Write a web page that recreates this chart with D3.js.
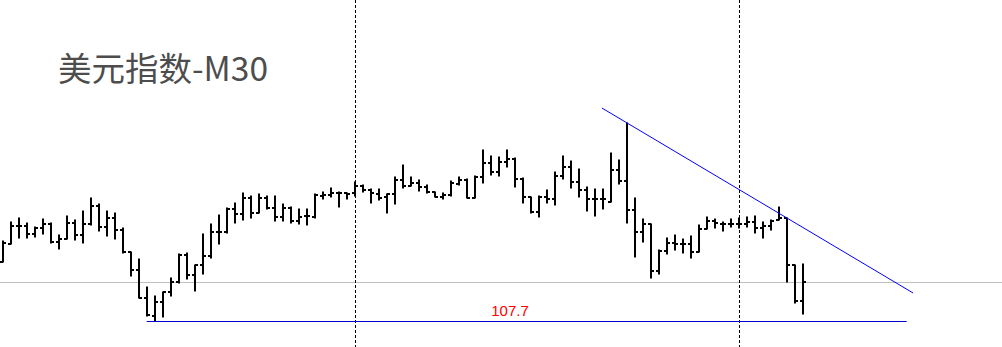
<!DOCTYPE html>
<html>
<head>
<meta charset="utf-8">
<script src="https://cdn.jsdelivr.net/npm/d3@7"></script>
<style>
  html, body { margin: 0; padding: 0; background: #fff; }
  svg { display: block; }
</style>
</head>
<body>
<div id="chart"></div>
<script>
// 美元指数 M30 OHLC bars

const title = '美元指数-M30';

const opens = [
  107.995, 108.085, 108.175, 108.175, 108.135, 108.165, 108.185, 108.095, 108.110, 108.190,
  108.130, 108.185, 108.275, 108.170, 108.215, 108.155, 108.045, 107.955, 107.815, 107.725,
  107.795, 107.845, 107.895, 108.030, 107.930, 107.980, 108.025, 108.145, 108.145, 108.260,
  108.235, 108.315, 108.240, 108.315, 108.265, 108.220, 108.265, 108.200, 108.225, 108.220,
  108.325, 108.330, 108.340, 108.340, 108.340, 108.375, 108.355, 108.335, 108.320, 108.335,
  108.405, 108.375, 108.390, 108.370, 108.345, 108.320, 108.330, 108.385, 108.405, 108.315,
  108.420, 108.490, 108.445, 108.495, 108.510, 108.410, 108.320, 108.245, 108.320, 108.310,
  108.425, 108.470, 108.395, 108.355, 108.310, 108.310, 108.295, 108.455, 108.400, 108.255,
  108.145, 108.185, 107.950, 108.050, 108.090, 108.085, 108.085, 108.045, 108.160, 108.200,
  108.185, 108.185, 108.185, 108.185, 108.195, 108.165, 108.175, 108.205, 108.215, 107.980,
  107.800
];

const highs = [
  108.100, 108.195, 108.215, 108.190, 108.170, 108.210, 108.190, 108.130, 108.225, 108.205,
  108.250, 108.315, 108.285, 108.250, 108.240, 108.165, 108.045, 108.010, 107.870, 107.825,
  107.845, 107.915, 108.035, 108.040, 107.980, 108.135, 108.185, 108.230, 108.265, 108.290,
  108.340, 108.325, 108.335, 108.325, 108.325, 108.285, 108.270, 108.260, 108.260, 108.335,
  108.345, 108.365, 108.345, 108.340, 108.395, 108.380, 108.360, 108.360, 108.335, 108.420,
  108.480, 108.420, 108.405, 108.380, 108.345, 108.340, 108.400, 108.420, 108.410, 108.425,
  108.555, 108.525, 108.520, 108.555, 108.515, 108.415, 108.320, 108.325, 108.355, 108.445,
  108.525, 108.500, 108.460, 108.370, 108.360, 108.360, 108.540, 108.505, 108.690, 108.315,
  108.210, 108.185, 108.055, 108.115, 108.130, 108.110, 108.125, 108.180, 108.220, 108.210,
  108.195, 108.210, 108.215, 108.220, 108.225, 108.195, 108.205, 108.270, 108.215, 107.980,
  107.985
];

const lows = [
  107.995, 108.085, 108.115, 108.115, 108.120, 108.135, 108.090, 108.060, 108.110, 108.105,
  108.090, 108.180, 108.150, 108.125, 108.110, 108.040, 107.925, 107.815, 107.725, 107.700,
  107.720, 107.825, 107.890, 107.910, 107.850, 107.935, 108.015, 108.085, 108.140, 108.190,
  108.205, 108.215, 108.240, 108.260, 108.200, 108.200, 108.190, 108.185, 108.180, 108.215,
  108.310, 108.320, 108.270, 108.310, 108.325, 108.345, 108.290, 108.305, 108.240, 108.285,
  108.365, 108.375, 108.350, 108.340, 108.320, 108.310, 108.325, 108.380, 108.315, 108.315,
  108.390, 108.430, 108.425, 108.470, 108.370, 108.290, 108.240, 108.220, 108.290, 108.280,
  108.410, 108.365, 108.320, 108.250, 108.225, 108.260, 108.295, 108.385, 108.190, 108.020,
  108.095, 107.915, 107.935, 108.035, 108.055, 108.040, 108.015, 108.045, 108.160, 108.165,
  108.150, 108.170, 108.165, 108.170, 108.140, 108.115, 108.155, 108.205, 107.895, 107.790,
  107.735
];

const closes = [
  108.090, 108.175, 108.175, 108.135, 108.165, 108.185, 108.095, 108.110, 108.190, 108.130,
  108.185, 108.275, 108.170, 108.215, 108.155, 108.045, 107.955, 107.815, 107.730, 107.795,
  107.845, 107.895, 108.030, 107.930, 107.980, 108.025, 108.145, 108.145, 108.260, 108.235,
  108.315, 108.240, 108.315, 108.265, 108.220, 108.265, 108.200, 108.220, 108.225, 108.330,
  108.330, 108.340, 108.340, 108.335, 108.375, 108.355, 108.340, 108.315, 108.335, 108.405,
  108.375, 108.390, 108.370, 108.345, 108.320, 108.330, 108.390, 108.405, 108.315, 108.420,
  108.490, 108.445, 108.495, 108.510, 108.410, 108.320, 108.245, 108.320, 108.310, 108.425,
  108.470, 108.395, 108.355, 108.310, 108.310, 108.310, 108.455, 108.400, 108.255, 108.145,
  108.185, 107.950, 108.050, 108.090, 108.085, 108.085, 108.045, 108.160, 108.200, 108.190,
  108.185, 108.185, 108.185, 108.195, 108.165, 108.175, 108.200, 108.215, 107.980, 107.800,
  107.895
];

// session separators (bar index), support level, current price, resistance trendline
const separators = [44, 92];
const supportLevel = 107.7;
const supportRange = [18, 113];
const currentPrice = 107.895;
const trendline = [[74.9, 108.765], [113.8, 107.84]];

const W = 1002, H = 347;

const svg = d3.select('#chart').append('svg')
  .attr('width', W)
  .attr('height', H);

const x = d3.scaleLinear().domain([0, 100]).range([2.7, 802.7]);
const y = d3.scaleLinear().domain([107.7, 108.7]).range([321, 121]);

const bars = opens.map((o, i) => ({ i, o, h: highs[i], l: lows[i], c: closes[i] }));
const px = i => Math.round(x(i));

// current price line
svg.append('line')
  .attr('x1', 0).attr('x2', W)
  .attr('y1', Math.round(y(currentPrice)) + 0.5)
  .attr('y2', Math.round(y(currentPrice)) + 0.5)
  .attr('stroke', '#c0c0c0')
  .attr('stroke-width', 1);

// dashed separators
svg.selectAll('.sep')
  .data(separators)
  .enter()
  .append('line')
  .attr('class', 'sep')
  .attr('x1', d => px(d) + 0.5).attr('x2', d => px(d) + 0.5)
  .attr('y1', 0).attr('y2', H)
  .attr('stroke', '#000')
  .attr('stroke-width', 1)
  .attr('stroke-dasharray', '3,2');

// OHLC bars
const g = svg.append('g').attr('class', 'bars');

g.selectAll('.hl')
  .data(bars)
  .enter()
  .append('line')
  .attr('x1', d => px(d.i)).attr('x2', d => px(d.i))
  .attr('y1', d => y(d.h) - 0.5)
  .attr('y2', d => y(d.l) + 0.5)
  .attr('stroke', '#000')
  .attr('stroke-width', 2);

g.selectAll('.op')
  .data(bars)
  .enter()
  .append('line')
  .attr('x1', d => px(d.i) - 3).attr('x2', d => px(d.i))
  .attr('y1', d => Math.round(y(d.o)))
  .attr('y2', d => Math.round(y(d.o)))
  .attr('stroke', '#000')
  .attr('stroke-width', 2);

g.selectAll('.cl')
  .data(bars)
  .enter()
  .append('line')
  .attr('x1', d => px(d.i)).attr('x2', d => px(d.i) + 3)
  .attr('y1', d => Math.round(y(d.c)))
  .attr('y2', d => Math.round(y(d.c)))
  .attr('stroke', '#000')
  .attr('stroke-width', 2);

// support level
svg.append('line')
  .attr('x1', x(supportRange[0])).attr('x2', x(supportRange[1]))
  .attr('y1', Math.round(y(supportLevel)) + 0.5)
  .attr('y2', Math.round(y(supportLevel)) + 0.5)
  .attr('stroke', '#0000d0')
  .attr('stroke-width', 1);

svg.append('text')
  .attr('x', 510)
  .attr('y', y(supportLevel) - 5)
  .attr('text-anchor', 'middle')
  .attr('font-family', 'Liberation Sans, Arial, sans-serif')
  .attr('font-size', 15)
  .attr('fill', '#ff0000')
  .text(supportLevel.toFixed(1));

// resistance trendline
const line = d3.line()
  .x(d => x(d[0]))
  .y(d => y(d[1]));

svg.append('path')
  .datum(trendline)
  .attr('fill', 'none')
  .attr('stroke', '#0000ff')
  .attr('stroke-width', 1)
  .attr('d', line);

// title
svg.append('text')
  .attr('x', 58)
  .attr('y', 81)
  .attr('font-family', '"Noto Sans CJK SC", "Noto Sans", sans-serif')
  .attr('font-size', 33.5)
  .attr('fill', '#4d4d4d')
  .text(title);
</script>
</body>
</html>
